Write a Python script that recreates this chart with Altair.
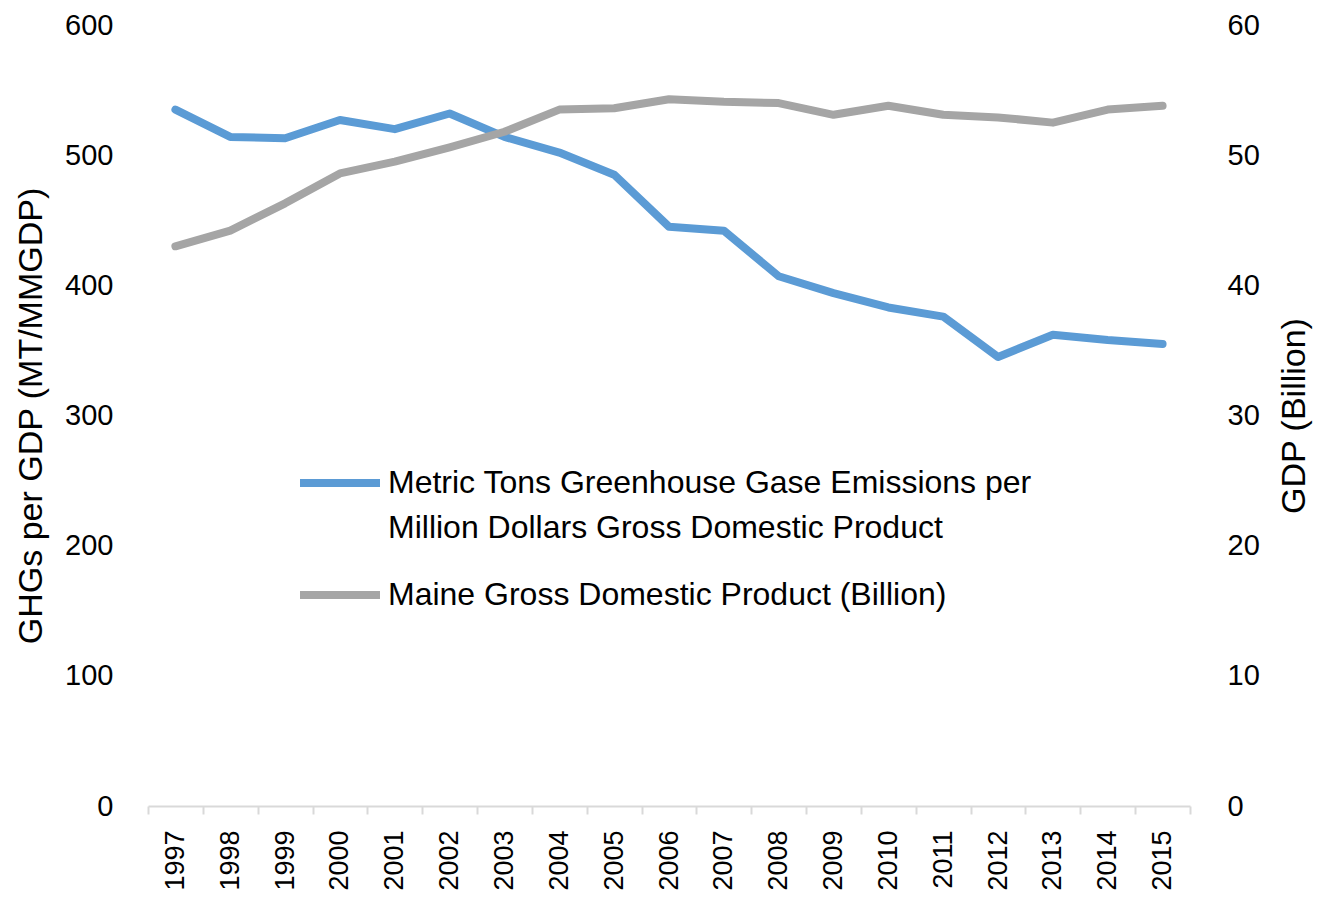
import altair as alt
import pandas as pd

years = [str(y) for y in range(1997, 2016)]
ghg_per_gdp = [535, 514, 513, 527, 520, 532, 514, 502, 485, 445, 442, 407, 394, 383, 376, 345, 362, 358, 355]
gdp_billion = [43.0, 44.2, 46.3, 48.6, 49.5, 50.6, 51.8, 53.5, 53.6, 54.3, 54.1, 54.0, 53.1, 53.8, 53.1, 52.9, 52.5, 53.5, 53.8]

s1 = "Metric Tons Greenhouse Gase Emissions per Million Dollars Gross Domestic Product"
s2 = "Maine Gross Domestic Product (Billion)"
series = [s1, s2]
colors = ["#5B9BD5", "#A5A5A5"]

df1 = pd.DataFrame({"year": years, "value": ghg_per_gdp, "series": s1})
df2 = pd.DataFrame({"year": years, "value": gdp_billion, "series": s2})

FONT = "Liberation Sans"

x = alt.X(
    "year:O",
    bandPosition=0.5,
    scale=alt.Scale(type="band", paddingInner=0, paddingOuter=0),
    axis=alt.Axis(
        title=None, labelAngle=-90, tickBand="extent", tickSize=8,
        labelPadding=16, domainColor="#D9D9D9", tickColor="#D9D9D9",
        domainWidth=2, tickWidth=2, labelFontSize=27, grid=False,
    ),
)

color = alt.Color(
    "series:N",
    scale=alt.Scale(domain=series, range=colors),
    legend=alt.Legend(
        title=None, orient="none", legendX=148, legendY=414,
        symbolType="stroke", symbolSize=6400, symbolStrokeWidth=8,
        labelFontSize=32, labelOffset=4, rowPadding=7, labelLimit=900,
        labelExpr=("datum.label == '" + s1 + "' ? ['Metric Tons Greenhouse Gase Emissions per', "
                   "'Million Dollars Gross Domestic Product'] : datum.label"),
    ),
)

left = alt.Chart(df1).mark_line(strokeWidth=8, strokeCap="round", strokeJoin="round").encode(
    x=x,
    y=alt.Y("value:Q", scale=alt.Scale(domain=[0, 600]),
            axis=alt.Axis(title="GHGs per GDP (MT/MMGDP)", values=[0, 100, 200, 300, 400, 500, 600],
                          domain=False, ticks=False, grid=False, labelPadding=35,
                          labelFontSize=29, titleFontSize=34, titlePadding=16)),
    color=color,
)

right = alt.Chart(df2).mark_line(strokeWidth=8, strokeCap="round", strokeJoin="round").encode(
    x=x,
    y=alt.Y("value:Q", scale=alt.Scale(domain=[0, 60]),
            axis=alt.Axis(title="GDP (Billion)", orient="right", values=[0, 10, 20, 30, 40, 50, 60],
                          domain=False, ticks=False, grid=False, labelPadding=37,
                          labelFontSize=29, titleFontSize=34, titlePadding=18, titleAngle=-90,
                          titleBaseline="top")),
    color=color,
)

chart = alt.layer(left, right).resolve_scale(y="independent").properties(
    width=1042, height=781,
    autosize=alt.AutoSizeParams(type="none"),
    padding={"left": 140, "top": 17, "right": 130, "bottom": 88},
).configure(
    font=FONT, style={"guide-label": {"lineHeight": 45}}
).configure_view(stroke=None).configure_axis(
    labelColor="#000000", titleColor="#000000", titleFontWeight="normal", labelFont=FONT, titleFont=FONT
).configure_legend(labelColor="#000000", labelFont=FONT)

chart.save("out.html", embed_options={"renderer": "svg", "actions": False})
